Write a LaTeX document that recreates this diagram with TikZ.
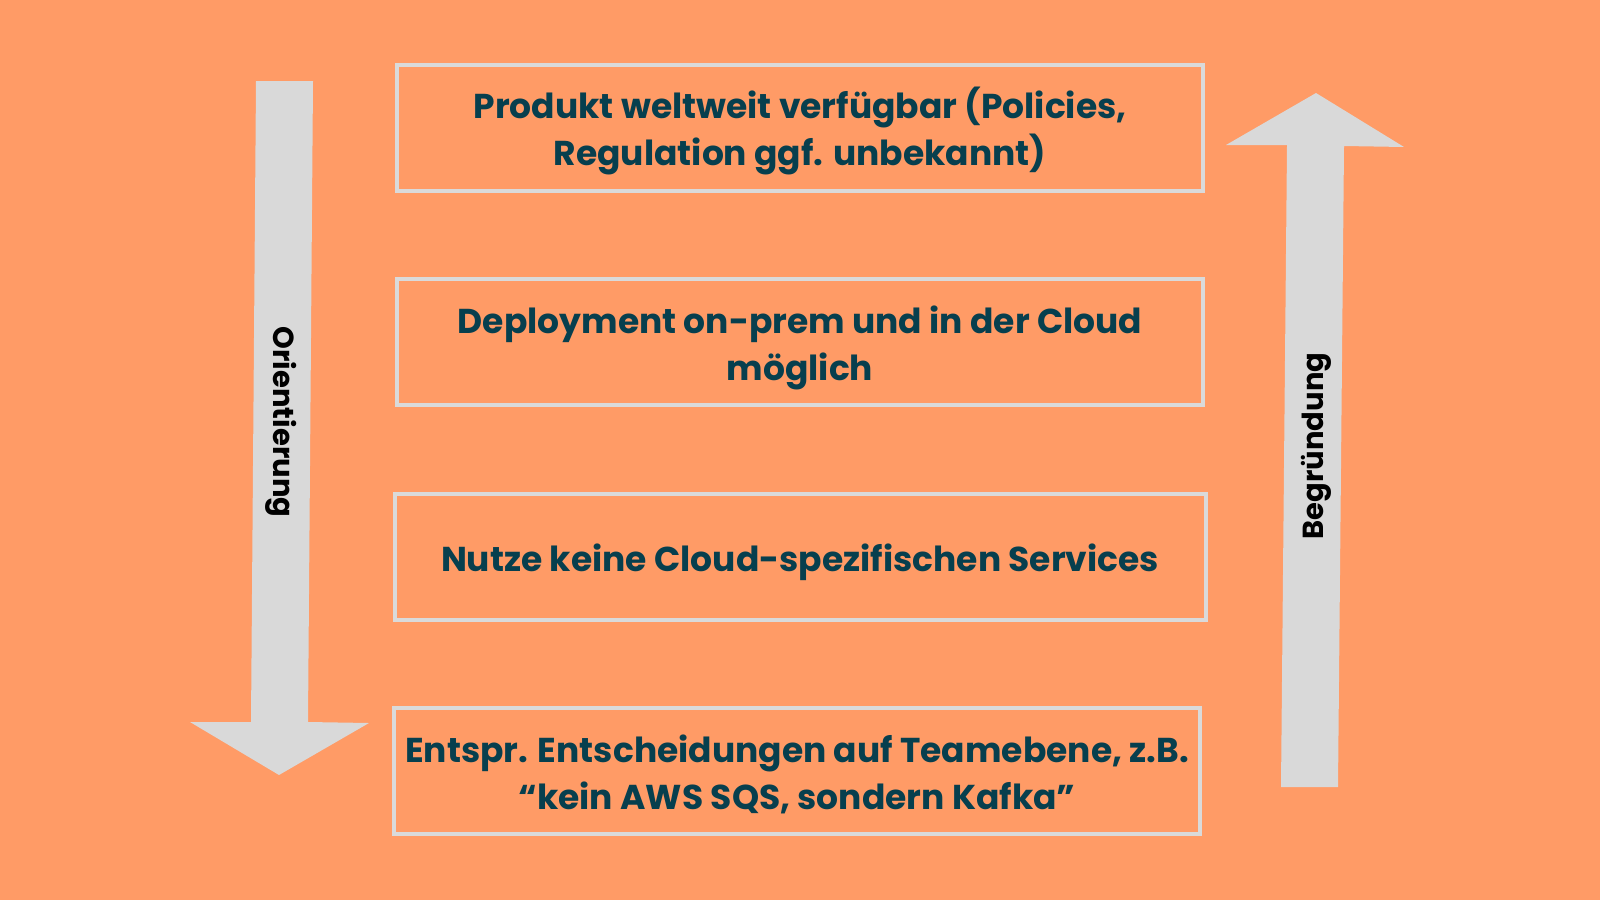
\documentclass[tikz,border=0pt]{standalone}
\usepackage{fontspec}
\setmainfont{Poppins}
\usetikzlibrary{positioning}
\definecolor{cBg}{HTML}{FF9B66}
\definecolor{cFrame}{HTML}{DADADA}
\definecolor{cText}{HTML}{073F4E}
\definecolor{cArrow}{HTML}{D9D9D9}
\newcommand{\lvltext}[1]{\raisebox{-5.5pt}[\height][\depth]{\begin{tabular}{@{}c@{}}#1\end{tabular}}}

\begin{document}
\begin{tikzpicture}[
    x=1pt, y=-1pt,
    level/.style={draw=cFrame, line width=4pt, align=center, text=cText,
      font=\fontsize{34.5}{47}\selectfont\bfseries, minimum width=806pt, minimum height=126pt, inner sep=0pt},
    side/.style={text=black, font=\fontsize{29}{32}\selectfont\bfseries, inner sep=0pt},
    bigarr/.style={fill=cArrow},
  ]
  % --- background ---
  \fill[cBg] (0,0) rectangle (1600,900);
  \useasboundingbox (0,0) rectangle (1600,900);

  % --- levels ---
  \node[level] (global) at (800,127.5)
    {\lvltext{Produkt weltweit verfügbar (Policies,\\Regulation ggf. unbekannt)}};
  \node[level, below=84.5pt of global] (deploy)
    {\lvltext{Deployment on-prem und in der Cloud\\möglich}};
  \node[level, minimum width=811pt, below=84.5pt of deploy] (services)
    {\lvltext{Nutze keine Cloud-spezifischen Services}};
  \node[level, xshift=-3pt, below=84.5pt of services] (team)
    {\lvltext{Entspr. Entscheidungen auf Teamebene, z.B.\\“kein AWS SQS, sondern Kafka”}};

  % --- side arrows ---
  \fill[bigarr] (256,81) -- (313,81) -- (308,722) -- (369,723) -- (279,775)
    -- (190,722) -- (251,722) -- cycle;
  \fill[bigarr] (1281,787) -- (1338,787) -- (1344,146) -- (1404,147) -- (1316,93)
    -- (1226,145) -- (1287,145) -- cycle;
  \node[side, rotate=-90] (orient) at (281,422) {Orientierung};
  \node[side, rotate=90] (reason) at (1316,446) {Begründung};
\end{tikzpicture}
\end{document}
